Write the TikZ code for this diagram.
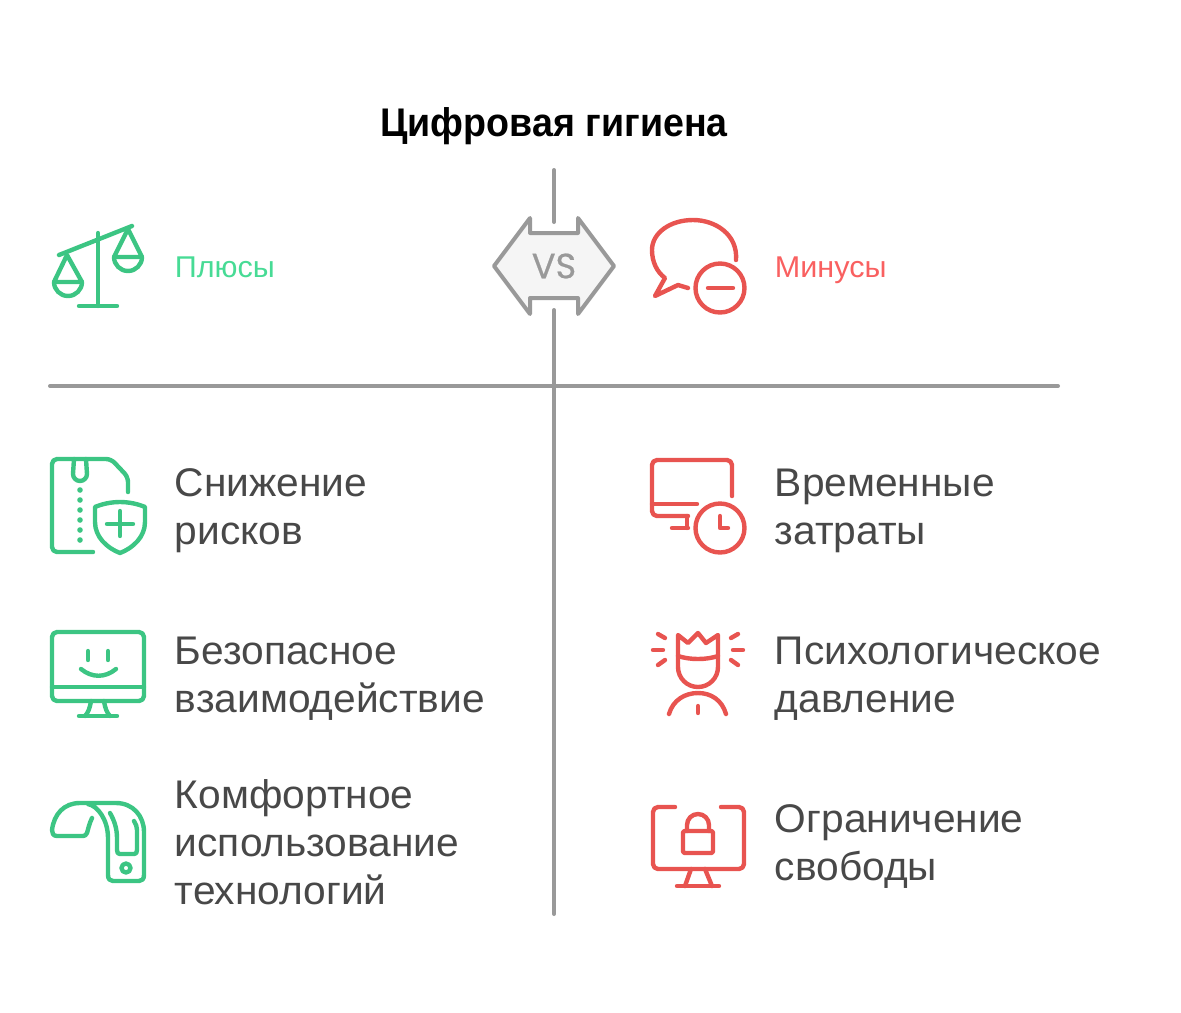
\documentclass[tikz,border=0pt]{standalone}
\usepackage{xcolor}
\usepackage{fontspec}
\setmainfont[FakeStretch=1.018]{Liberation Sans}
\newfontfamily\titlefont[FakeStretch=0.94]{Liberation Sans}
\newfontfamily\vsfont[FakeBold=0.6]{Poppins}
\usetikzlibrary{calc,positioning}

\definecolor{plusgreen}{HTML}{3CC583}
\definecolor{pluslabel}{HTML}{47DB95}
\definecolor{minusred}{HTML}{E85450}
\definecolor{minuslabel}{HTML}{F96060}
\definecolor{rulegray}{HTML}{999999}
\definecolor{bodygray}{HTML}{484848}

\begin{document}
\begin{tikzpicture}[
  x=0.02cm, y=-0.02cm,
  rulelin/.style={draw=rulegray, line width=0.08cm, line cap=round},
  icon/.style={line width=0.088cm, line cap=round, line join=round},
  good/.style={icon, draw=plusgreen},
  bad/.style={icon, draw=minusred},
  item/.style={anchor=base west, align=left, inner sep=0pt, text=bodygray,
    font=\fontsize{22.76pt}{27.32pt}\selectfont},
  head/.style={anchor=base west, inner sep=0pt, font=\fontsize{17.1pt}{20pt}\selectfont}
]
\useasboundingbox (0,0) rectangle (1181,1012);

% title
\node[inner sep=0pt, font=\titlefont\bfseries\fontsize{22.76pt}{27pt}\selectfont] (title) at (554,126) {Цифровая гигиена};

% rules
\coordinate (vtop) at (554,170);
\coordinate (vgapa) at (554,222);
\coordinate (vgapb) at (554,310);
\coordinate (vbot) at (554,914);
\coordinate (hleft) at (50,386);
\coordinate (hright) at (1058,386);
\draw[rulelin] (vtop) -- (vgapa);
\draw[rulelin] (vgapb) -- (vbot);
\draw[rulelin] (hleft) -- (hright);

% vs badge
\draw[rulelin, fill=black!4, line join=round]
  (494,266) -- (530,218) -- (530,233) -- (578,233) -- (578,218) -- (614,266)
  -- (578,314) -- (578,298) -- (530,298) -- (530,314) -- cycle;
\node[inner sep=0pt, text=rulegray, font=\vsfont\fontsize{20pt}{20pt}\selectfont] (vs) at (554,266) {VS};

% column heads
\node[head, text=pluslabel] (plus) at (174.5,277) {Плюсы};
\node[head, text=minuslabel] (minus) at (774.5,277) {Минусы};

% left items
\node[item] (riski) at (174.5,544) {Снижение\\рисков};
\node[item] (safe) at (174.5,712) {Безопасное\\взаимодействие};
\node[item] (comfort) at (174.5,904) {Комфортное\\использование\\технологий};

% right items
\node[item] (time) at (774.5,544) {Временные\\затраты};
\node[item] (stress) at (774.5,712) {Психологическое\\давление};
\node[item] (limit) at (774.5,880) {Ограничение\\свободы};

% scales
\draw[good] (59,255) -- (132,226);
\draw[good] (98,233) -- (98,306);
\draw[good] (79,306) -- (117,306);
\draw[good] (54,282) -- (67,255) -- (82,282) -- cycle;
\draw[good] (54,282) arc[start angle=180, end angle=0, radius=14];
\draw[good] (114,257) -- (128,229) -- (142,257) -- cycle;
\draw[good] (114,257) arc[start angle=180, end angle=0, radius=14];

% zip file and shield
\draw[good, rounded corners=0.1cm] (93,552) -- (52,552) -- (52,459) -- (111,459) -- (128,477) -- (128,492);
\draw[good] (74,459) -- (73,474) arc[start angle=180, end angle=0, radius=7] -- (86,459);
\foreach \y in {490,500,...,540}
  \fill[plusgreen] (80,\y) circle[radius=2.8];
\draw[good] (120,502) .. controls (129,502) and (138,504) .. (145,507) -- (145,522)
  .. controls (145,537) and (133,548) .. (120,553)
  .. controls (107,548) and (95,537) .. (95,522) -- (95,507)
  .. controls (102,504) and (111,502) .. (120,502) -- cycle;
\draw[good] (107,524) -- (133,524);
\draw[good] (120,511) -- (120,536);

% smiling monitor
\draw[good, rounded corners=0.1cm] (52,632) rectangle (144,701);
\draw[good] (52,687) -- (144,687);
\draw[good] (88,651) -- (88,660);
\draw[good] (108,651) -- (108,660);
\draw[good] (81,669) .. controls (92,678) and (105,678) .. (116,669);
\draw[good] (91,701) .. controls (90,708) and (88,713) .. (85,716);
\draw[good] (104,701) .. controls (105,708) and (107,713) .. (110,716);
\draw[good] (79,716) -- (117,716);

% phone roll
\draw[good] (92,818) .. controls (89,824) and (88,830) .. (87,833)
  .. controls (86,835) and (85,836) .. (83,836) -- (57,836)
  .. controls (53,836) and (52,833) .. (52,830)
  .. controls (54,814) and (64,803) .. (80,803) -- (116,803)
  .. controls (133,803) and (144,816) .. (144,832) -- (144,875)
  .. controls (144,879) and (142,881) .. (139,881) -- (113,881)
  .. controls (110,881) and (108,879) .. (108,875) -- (108,838)
  .. controls (108,820) and (98,806) .. (88,804);
\draw[good] (110,813) .. controls (114,820) and (117,828) .. (117,838) -- (117,850)
  .. controls (117,853) and (118,854) .. (120,854) -- (134,854)
  .. controls (136,854) and (137,853) .. (137,850) -- (137,830)
  .. controls (137,827) and (136,824) .. (134,821);
\draw[good] (126,868) circle[radius=4.5];

% speech bubble
\draw[bad] (736,260) .. controls (738,235) and (716,220) .. (693,220)
  .. controls (670,220) and (652,233) .. (652,250)
  .. controls (652,262) and (657,272) .. (665,278)
  -- (655,296) -- (678,285) -- (688,288);
\draw[bad] (720,288) circle[radius=24.5];
\draw[bad] (708,288) -- (733,288);

% monitor and clock
\draw[bad, rounded corners=0.1cm] (732,496) -- (732,460) -- (652,460) -- (652,516) -- (688,516);
\draw[bad] (652,504) -- (697,504);
\draw[bad] (687,516) -- (687,528);
\draw[bad] (672,528) -- (688,528);
\draw[bad] (720,528) circle[radius=24.5];
\draw[bad] (720,516) -- (720,528) -- (728,528);

% head with crown
\draw[bad] (678,667) -- (678,635) -- (688,643) -- (698,633) -- (706,643) -- (718,635) -- (718,667)
  arc[start angle=0, end angle=180, radius=20];
\draw[bad] (678,656) .. controls (690,660) and (706,660) .. (718,656);
\draw[bad] (669,714) .. controls (673,700) and (685,693) .. (698,693)
  .. controls (711,693) and (722,700) .. (726,714);
\draw[bad] (698,706) -- (698,713);
\foreach \xa/\ya/\xb/\yb in {658/634/665/638, 653/650/663/650, 658/665/665/660,
    738/634/731/638, 743/650/733/650, 738/665/731/660}
  \draw[bad] (\xa,\ya) -- (\xb,\yb);

% monitor with lock
\draw[bad, rounded corners=0.1cm] (675,807) -- (653,807) -- (653,869) -- (744,869) -- (744,807) -- (721,807);
\draw[bad, rounded corners=0.03cm] (683,831) rectangle (713,853);
\draw[bad] (687,831) -- (687,825) arc[start angle=180, end angle=360, radius=11] -- (709,831);
\draw[bad] (691,869) -- (685,886);
\draw[bad] (705,869) -- (712,886);
\draw[bad] (677,886) -- (719,886);
\end{tikzpicture}
\end{document}
